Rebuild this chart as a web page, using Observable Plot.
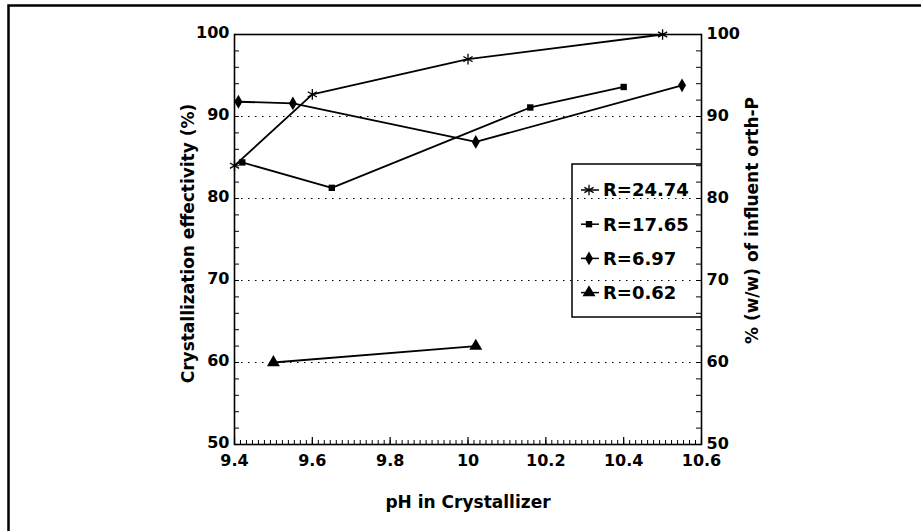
<!DOCTYPE html>
<html><head><meta charset="utf-8">
<script src="https://cdn.jsdelivr.net/npm/d3@7"></script>
<script src="https://cdn.jsdelivr.net/npm/@observablehq/plot@0.6"></script>
<style>body{margin:0;background:#fff} svg{display:block}</style>
</head><body><div id="chart"></div>
<script>
// Series names (legend)
const seriesNames = ["R=24.74", "R=17.65", "R=6.97", "R=0.62"];
// pH values and crystallization effectivity (%) per series
const pH_R2474 = [9.4, 9.6, 10.0, 10.5];
const eff_R2474 = [84, 92.7, 97, 100];
const pH_R1765 = [9.42, 9.65, 10.16, 10.4];
const eff_R1765 = [84.4, 81.3, 91.1, 93.6];
const pH_R697 = [9.41, 9.55, 10.02, 10.55];
const eff_R697 = [91.8, 91.6, 86.9, 93.8];
const pH_R062 = [9.5, 10.02];
const eff_R062 = [60, 62];
// Axis ticks
const xTicks = [9.4, 9.6, 9.8, 10, 10.2, 10.4, 10.6];
const yTicks = [50, 60, 70, 80, 90, 100];
const gridY = [60, 70, 80, 90];
const xTitle = "pH in Crystallizer";
const yTitleLeft = "Crystallization effectivity (%)";
const yTitleRight = "% (w/w) of influent orth-P";

const symbols = ["asterisk", "square", "diamond", "triangle"];
const radii = [5, 3.6, 4.2, 4.8];
const pHs = [pH_R2474, pH_R1765, pH_R697, pH_R062];
const effs = [eff_R2474, eff_R1765, eff_R697, eff_R062];
const rows = [];
seriesNames.forEach((s, i) => pHs[i].forEach((p, j) => rows.push({series: s, pH: p, eff: effs[i][j], si: i})));

const minorY = d3.range(50, 100.01, 2);
const minorX = d3.range(0, 79).map(i => 9.4 + i * 1.2 / 78);

const W = 921, H = 531, mL = 234, mR = 220, mT = 34, mB = 87;
const pw = W - mL - mR, ph = H - mT - mB;
const font = "'DejaVu Sans', 'Liberation Sans', Arial, sans-serif";

const dotMarks = seriesNames.map((s, i) => {
  const d = rows.filter(r => r.si === i);
  return symbols[i] === "asterisk"
    ? Plot.dot(d, {x: "pH", y: "eff", symbol: () => "asterisk", r: radii[i], stroke: "#000", strokeWidth: 1.3, fill: "none"})
    : Plot.dot(d, {x: "pH", y: "eff", symbol: () => symbols[i], r: radii[i], fill: "#000", stroke: "none"});
});

const plot = Plot.plot({
  width: W, height: H,
  marginLeft: mL, marginRight: mR, marginTop: mT, marginBottom: mB,
  style: {fontFamily: font, background: "#fff", color: "#000", overflow: "visible"},
  x: {domain: [9.4, 10.6]},
  y: {domain: [50, 100]},
  symbol: {type: "identity"},
  marks: [
    Plot.ruleY(gridY, {stroke: "#000", strokeWidth: 1.2, strokeDasharray: "1.5,5.5"}),
    Plot.tickY(minorY, {insetRight: pw - 5, stroke: "#000", strokeWidth: 1}),
    Plot.tickY(minorY, {insetLeft: pw - 5, stroke: "#000", strokeWidth: 1}),
    Plot.tickX(minorX, {insetTop: ph - 4, stroke: "#000", strokeWidth: 1}),
    Plot.tickX(xTicks, {insetTop: ph - 7, stroke: "#000", strokeWidth: 1.2}),
    Plot.frame({stroke: "#000", strokeWidth: 1.6}),
    Plot.line(rows, {x: "pH", y: "eff", z: "series", stroke: "#000", strokeWidth: 1.8}),
    ...dotMarks,
    Plot.axisY({ticks: yTicks, anchor: "left", tickSize: 0, tickPadding: 5, dy: -2, fontSize: 16, fontWeight: "bold", label: null}),
    Plot.axisY({ticks: yTicks, anchor: "right", tickSize: 0, tickPadding: 5, dy: -1, fontSize: 16, fontWeight: "bold", label: null}),
    Plot.axisX({ticks: xTicks, tickSize: 0, tickPadding: 10, fontSize: 16, fontWeight: "bold", label: null,
      tickFormat: d => d === 10 ? "10" : d3.format(".1f")(d)}),
    Plot.text([yTitleLeft], {text: d => d, frameAnchor: "left", rotate: -90, dx: -46, dy: 4, fontSize: 17, fontWeight: "bold", textAnchor: "middle"}),
    Plot.text([yTitleRight], {text: d => d, frameAnchor: "right", rotate: -90, dx: 51, dy: -19, fontSize: 17, fontWeight: "bold", textAnchor: "middle"}),
    Plot.text([xTitle], {text: d => d, frameAnchor: "bottom", dy: 51, lineAnchor: "top", fontSize: 17, fontWeight: "bold", textAnchor: "middle"})
  ]
});

const svg = d3.select(plot);
// Outer figure border (top and left visible)
svg.append("path").attr("d", `M8.5,${H} V5.5 H${W}`).attr("fill", "none").attr("stroke", "#000").attr("stroke-width", 2.5);

// Legend box
const lg = svg.append("g").attr("text-anchor", "start");
const bx0 = 572, bx1 = W - mR, by0 = 164, by1 = 317;
lg.append("path").attr("d", `M${bx1},${by0} H${bx0} V${by1} H${bx1}`).attr("fill", "none").attr("stroke", "#000").attr("stroke-width", 1.5);
seriesNames.forEach((s, i) => {
  const yy = 190 + i * 34.2;
  lg.append("line").attr("x1", 581).attr("x2", 599).attr("y1", yy).attr("y2", yy).attr("stroke", "#000").attr("stroke-width", 1.5);
  const typ = [d3.symbolAsterisk, d3.symbolSquare, d3.symbolDiamond, d3.symbolTriangle][i];
  const p = lg.append("path").attr("d", d3.symbol(typ, Math.PI * radii[i] * radii[i])()).attr("transform", `translate(589,${yy})`);
  if (i === 0) p.attr("fill", "none").attr("stroke", "#000").attr("stroke-width", 1.3);
  else p.attr("fill", "#000");
  lg.append("text").attr("x", 603).attr("y", yy).attr("dy", "0.36em").attr("text-anchor", "start")
    .attr("font-size", 18).attr("font-weight", "bold").attr("font-family", font).attr("fill", "#000").text(s);
});

document.getElementById("chart").appendChild(plot);
</script>
</body></html>
